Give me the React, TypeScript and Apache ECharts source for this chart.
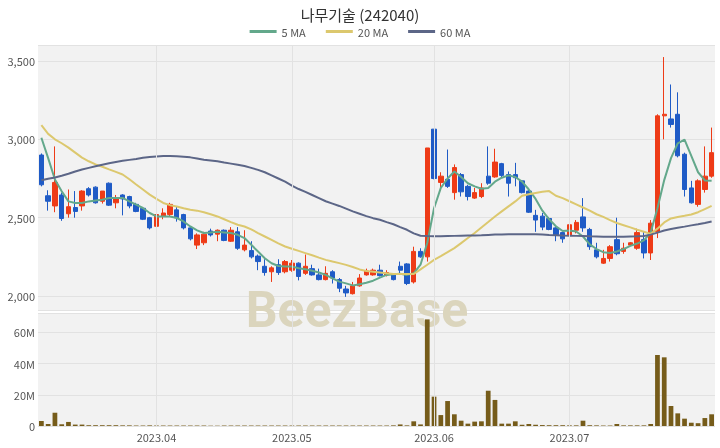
import React, { useEffect, useRef } from "react";
import * as echarts from "echarts";

const dates = [
  "2023-03-09","2023-03-10","2023-03-13","2023-03-14","2023-03-15","2023-03-16","2023-03-17","2023-03-20","2023-03-21","2023-03-22","2023-03-23","2023-03-24","2023-03-27","2023-03-28","2023-03-29","2023-03-30","2023-03-31",
  "2023-04-03","2023-04-04","2023-04-05","2023-04-06","2023-04-07","2023-04-10","2023-04-11","2023-04-12","2023-04-13","2023-04-14","2023-04-17","2023-04-18","2023-04-19","2023-04-20","2023-04-21","2023-04-24","2023-04-25","2023-04-26","2023-04-27","2023-04-28",
  "2023-05-02","2023-05-03","2023-05-04","2023-05-08","2023-05-09","2023-05-10","2023-05-11","2023-05-12","2023-05-15","2023-05-16","2023-05-17","2023-05-18","2023-05-19","2023-05-22","2023-05-23","2023-05-24","2023-05-25","2023-05-26","2023-05-29","2023-05-30","2023-05-31",
  "2023-06-01","2023-06-02","2023-06-05","2023-06-07","2023-06-08","2023-06-09","2023-06-12","2023-06-13","2023-06-14","2023-06-15","2023-06-16","2023-06-19","2023-06-20","2023-06-21","2023-06-22","2023-06-23","2023-06-26","2023-06-27","2023-06-28","2023-06-29",
  "2023-07-03","2023-07-04","2023-07-05","2023-07-06","2023-07-07","2023-07-10","2023-07-11","2023-07-12","2023-07-13","2023-07-14","2023-07-17","2023-07-18","2023-07-19","2023-07-20","2023-07-21","2023-07-24","2023-07-25","2023-07-26","2023-07-27","2023-07-28","2023-07-31",
  "2023-08-01",
];

const opens = [
  2900,2640,2575,2645,2525,2565,2575,2685,2695,2605,2720,2595,2645,2635,2585,2560,2500,2445,2510,2520,
  2550,2520,2435,2325,2340,2415,2395,2420,2350,2410,2295,2290,2255,2190,2155,2200,2155,2165,2210,2145,
  2175,2135,2105,2155,2105,2045,2015,2065,2135,2135,2165,2135,2135,2190,2205,2090,2285,2250,3065,2725,
  2745,2660,2775,2700,2625,2635,2765,2760,2845,2775,2775,2735,2670,2515,2510,2495,2435,2405,2390,2420,
  2505,2425,2295,2210,2240,2360,2285,2325,2305,2360,2275,2410,3150,3130,3160,2905,2690,2585,2680,2765,
];
const closes = [
  2710,2605,2725,2495,2570,2540,2670,2645,2595,2670,2580,2620,2620,2575,2540,2490,2435,2520,2530,2585,
  2500,2435,2365,2390,2395,2390,2420,2355,2420,2305,2325,2250,2220,2150,2180,2150,2220,2210,2125,2190,
  2135,2105,2145,2115,2050,2020,2065,2115,2160,2165,2130,2150,2105,2165,2080,2285,2250,2945,2750,2765,
  2700,2820,2665,2635,2660,2690,2720,2855,2770,2720,2755,2660,2535,2485,2440,2425,2390,2365,2455,2470,
  2435,2315,2250,2240,2315,2270,2305,2340,2405,2275,2465,3150,3160,3095,2895,2680,2595,2735,2765,2915,
];
const lows = [
  2700,2545,2535,2480,2500,2500,2545,2635,2590,2590,2575,2560,2515,2560,2535,2485,2425,2440,2490,2510,
  2475,2425,2355,2300,2325,2380,2350,2350,2345,2295,2285,2240,2165,2130,2090,2135,2145,2155,2100,2135,
  2130,2100,2100,2080,2025,1995,2010,2060,2130,2130,2125,2125,2100,2145,2070,2080,2245,2220,2745,2670,
  2690,2615,2635,2610,2620,2625,2710,2755,2755,2635,2700,2655,2530,2410,2420,2420,2350,2340,2380,2400,
  2410,2295,2240,2205,2220,2260,2270,2320,2295,2240,2230,2370,3000,3075,2885,2635,2590,2570,2660,2755,
];
const highs = [
  2910,2675,2955,2660,2680,2670,2675,2695,2700,2670,2725,2645,2650,2640,2595,2565,2505,2525,2560,2595,
  2570,2525,2440,2400,2410,2430,2425,2425,2440,2440,2420,2350,2265,2235,2190,2235,2230,2230,2215,2265,
  2200,2175,2190,2165,2115,2065,2090,2140,2175,2175,2200,2165,2140,2220,2210,2315,2305,2945,3065,2790,
  2935,2840,2785,2710,2690,2720,2955,2940,2850,2795,2850,2740,2690,2550,2530,2505,2445,2410,2470,2485,
  2625,2435,2340,2295,2325,2500,2340,2345,2430,2410,2485,3160,3525,3350,3300,2915,2735,2745,2955,3075,
];

const ma5 = [
  3010,2880,2744,2669,2604,2594,2594,2604,2610,2615,2626,2626,2626,2604,2583,2562,2530,2508,2508,2508,
  2498,2476,2444,2419,2402,2406,2410,2406,2402,2391,2370,2327,2284,2241,2209,2192,2188,2188,2177,2171,
  2162,2150,2135,2113,2092,2081,2068,2075,2085,2098,2118,2135,2139,2143,2135,2145,2200,2340,2560,2690,
  2750,2795,2760,2720,2700,2685,2690,2730,2755,2770,2760,2730,2680,2620,2545,2490,2445,2415,2418,2412,
  2380,2330,2300,2280,2275,2284,2300,2320,2335,2355,2405,2560,2740,2880,2975,2998,2895,2790,2738,2735,
];
const ma20 = [
  3090,3035,3000,2975,2947,2915,2883,2860,2840,2825,2808,2792,2776,2745,2712,2680,2647,2620,2594,2580,
  2572,2560,2551,2545,2535,2522,2508,2490,2472,2455,2444,2425,2402,2380,2358,2336,2316,2302,2288,2274,
  2260,2245,2231,2220,2210,2199,2185,2170,2160,2155,2150,2145,2141,2140,2140,2141,2170,2200,2231,2255,
  2280,2306,2338,2370,2402,2437,2472,2508,2540,2572,2604,2640,2650,2658,2665,2670,2640,2625,2605,2585,
  2565,2545,2522,2505,2485,2466,2452,2438,2423,2410,2397,2430,2470,2495,2505,2512,2520,2535,2555,2575,
];
const ma60 = [
  2739,2748,2757,2768,2780,2795,2808,2818,2828,2838,2847,2856,2863,2869,2875,2882,2887,2891,2893,2893,
  2892,2889,2885,2878,2870,2865,2860,2852,2845,2838,2830,2818,2805,2790,2770,2750,2730,2705,2683,2665,
  2645,2625,2605,2590,2575,2558,2540,2525,2510,2497,2487,2472,2458,2440,2423,2400,2385,2383,2382,2382,
  2383,2384,2385,2386,2387,2388,2390,2392,2393,2394,2395,2395,2395,2394,2393,2390,2388,2386,2385,2384,
  2383,2381,2380,2379,2379,2379,2379,2380,2381,2383,2392,2405,2418,2428,2436,2443,2451,2458,2466,2476,
];

// volume in millions of shares
const volumes = [
  3.2,1.3,8.5,1.1,2.6,0.9,0.9,0.5,0.5,0.5,0.5,0.5,0.4,0.4,0.3,0.3,0.4,0.3,0.3,0.3,
  0.3,0.3,0.3,0.3,0.3,0.2,0.2,0.3,0.3,0.3,0.3,0.3,0.3,0.3,0.3,0.3,0.3,0.3,0.3,0.3,
  0.3,0.3,0.3,0.3,0.3,0.3,0.3,0.3,0.3,0.3,0.3,0.3,0.4,1.0,0.4,3.0,1.0,68.3,18.8,7.0,
  16.0,7.5,3.4,1.5,2.8,3.0,22.6,16.7,1.5,1.5,3.0,0.8,1.3,0.8,0.6,0.5,0.5,0.5,0.4,0.4,
  3.4,0.5,0.4,0.3,0.3,1.3,0.4,0.4,0.4,0.4,1.3,45.5,44.0,12.8,8.1,4.7,2.1,1.8,5.1,7.5,
];

const UP = "#ee3b17";
const DOWN = "#1f5bc6";
const FONT = "'Noto Sans CJK KR', 'Noto Sans', sans-serif";

export default function App() {
  const ref = useRef<HTMLDivElement>(null);
  useEffect(() => {
    const chart = echarts.init(ref.current!, null, { renderer: "svg" });
    const candles = dates.map((_, i) => [opens[i], closes[i], lows[i], highs[i]]);
    const isMonthStart = (i: number) =>
      i > 0 && i < dates.length - 3 && dates[i].slice(5, 7) !== dates[i - 1].slice(5, 7);
    const monthDates = dates.filter((_, i) => isMonthStart(i));
    const vLines = {
      silent: true,
      symbol: ["none", "none"],
      label: { show: false },
      lineStyle: { color: "#e2e2e2", type: "solid", width: 1 },
      emphasis: { disabled: true },
      data: monthDates.map((d) => ({ xAxis: d })),
    };
    const option: any = {
      animation: false,
      textStyle: { fontFamily: FONT },
      title: {
        text: "나무기술 (242040)",
        left: "center",
        top: 2,
        textStyle: { fontSize: 15, fontWeight: "normal", color: "#333", fontFamily: FONT },
      },
      legend: {
        top: 21,
        left: "center",
        icon: "rect",
        itemWidth: 27,
        itemHeight: 3,
        itemGap: 20,
        data: ["5 MA", "20 MA", "60 MA"],
        textStyle: { fontSize: 11, color: "#555", fontFamily: FONT },
      },
      grid: [
        { left: 38, right: 5, top: 45, height: 265, show: true, backgroundColor: "#f2f2f2", borderWidth: 0 },
        { left: 38, right: 5, top: 313, height: 113, show: true, backgroundColor: "#f2f2f2", borderWidth: 0 },
      ],
      xAxis: [
        {
          type: "category", gridIndex: 0, data: dates, boundaryGap: true,
          axisLine: { show: false }, axisTick: { show: false }, axisLabel: { show: false }, splitLine: { show: false },
        },
        {
          type: "category", gridIndex: 1, data: dates, boundaryGap: true,
          axisLine: { show: false }, axisTick: { show: false }, splitLine: { show: false },
          axisLabel: {
            interval: (i: number) => isMonthStart(i),
            formatter: (v: string) => v.slice(0, 7).replace("-", "."),
            fontSize: 11, color: "#555", margin: 5, fontFamily: FONT,
          },
        },
      ],
      yAxis: [
        {
          type: "value", gridIndex: 0, min: 1911, max: 3602, splitNumber: 3,
          axisLine: { show: false }, axisTick: { show: false },
          splitLine: { lineStyle: { color: "#e2e2e2", width: 1 } },
          axisLabel: {
            showMinLabel: false, showMaxLabel: false, fontSize: 11, color: "#555", margin: 3, fontFamily: FONT,
            formatter: (v: number) => v.toLocaleString("en-US"),
          },
        },
        {
          type: "value", gridIndex: 1, min: 0, max: 72.4, splitNumber: 3,
          axisLine: { show: false }, axisTick: { show: false },
          splitLine: { lineStyle: { color: "#e2e2e2", width: 1 } },
          axisLabel: {
            showMinLabel: true, showMaxLabel: false, fontSize: 11, color: "#555", margin: 3, fontFamily: FONT,
            formatter: (v: number) => (v === 0 ? "0" : `${v}M`),
          },
        },
      ],
      graphic: [
        {
          type: "text", x: 357, y: 310, z: 1, silent: true,
          style: {
            text: "BeezBase", fontSize: 50, fontWeight: "bold", fontFamily: "Roboto, 'Noto Sans', sans-serif",
            fill: "#dbd5bd", align: "center", verticalAlign: "middle",
          },
        },
      ],
      series: [
        { name: "grid0lines", type: "line", xAxisIndex: 0, yAxisIndex: 0, data: [], z: 1, markLine: vLines },
        { name: "grid1lines", type: "line", xAxisIndex: 1, yAxisIndex: 1, data: [], z: 1, markLine: vLines },
        {
          name: "candle", type: "candlestick", xAxisIndex: 0, yAxisIndex: 0, data: candles, barWidth: "72%", z: 3,
          itemStyle: { color: UP, color0: DOWN, borderColor: UP, borderColor0: DOWN, borderWidth: 1 },
        },
        {
          name: "5 MA", type: "line", xAxisIndex: 0, yAxisIndex: 0, data: ma5, symbol: "none", z: 4,
          lineStyle: { color: "#63a88b", width: 2 }, itemStyle: { color: "#63a88b" },
        },
        {
          name: "20 MA", type: "line", xAxisIndex: 0, yAxisIndex: 0, data: ma20, symbol: "none", z: 4,
          lineStyle: { color: "#dcc86e", width: 2 }, itemStyle: { color: "#dcc86e" },
        },
        {
          name: "60 MA", type: "line", xAxisIndex: 0, yAxisIndex: 0, data: ma60, symbol: "none", z: 4,
          lineStyle: { color: "#5c6687", width: 2 }, itemStyle: { color: "#5c6687" },
        },
        {
          name: "volume", type: "bar", xAxisIndex: 1, yAxisIndex: 1, data: volumes, barWidth: "70%", z: 3,
          itemStyle: { color: "#765c1a" },
        },
      ],
    };
    chart.setOption(option);
    return () => chart.dispose();
  }, []);
  return <div ref={ref} style={{ position: "fixed", left: 0, top: 0, width: 720, height: 448 }} />;
}
